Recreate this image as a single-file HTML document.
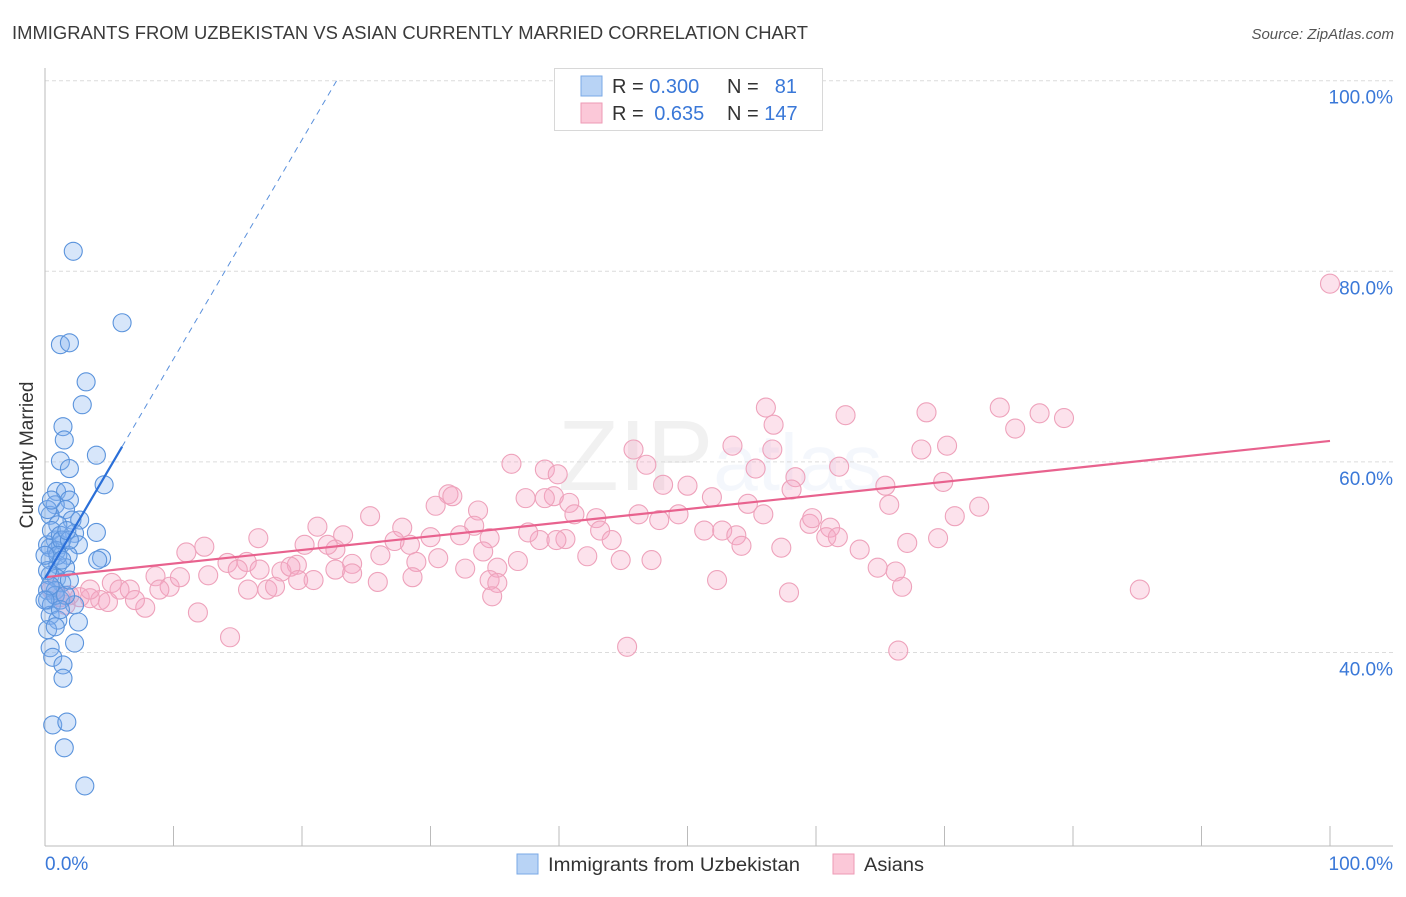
<!DOCTYPE html>
<html><head><meta charset="utf-8"><style>
body{margin:0;background:#fff;font-family:"Liberation Sans",sans-serif;}
svg text{font-family:"Liberation Sans",sans-serif;}
</style></head><body>
<svg id="chart" width="1406" height="892" xmlns="http://www.w3.org/2000/svg">
<text x="12" y="39" font-size="18" fill="#3a3a3a" textLength="796" lengthAdjust="spacingAndGlyphs">IMMIGRANTS FROM UZBEKISTAN VS ASIAN CURRENTLY MARRIED CORRELATION CHART</text>
<text x="1394" y="39" font-size="15" font-style="italic" fill="#555" text-anchor="end">Source: ZipAtlas.com</text>
<text x="720" y="490" font-size="100" fill="#000" opacity="0.05" text-anchor="middle" font-family="Liberation Serif">ZIP<tspan font-family="Liberation Sans" font-size="80" fill="#3a78d8" opacity="1">atlas</tspan></text>
<g id="grid"></g>
<g id="axes"></g>
<g id="pink"></g>
<g id="blue"></g>
<g id="trends"></g>
<text transform="translate(33,455) rotate(-90)" font-size="19" fill="#333" text-anchor="middle">Currently Married</text>
<g>
<rect x="554.5" y="68.5" width="268" height="62" fill="#fff" stroke="#d8d8d8"/>
<rect x="581" y="76" width="21" height="20" fill="#b8d3f5" stroke="#7aa8e6"/>
<rect x="581" y="103" width="21" height="20" fill="#fbc8d8" stroke="#ee9ab5"/>
<text x="612" y="93" font-size="20" fill="#333">R = <tspan fill="#3a78d8">0.300</tspan></text>
<text x="727" y="93" font-size="20" fill="#333">N =</text>
<text x="797" y="93" font-size="20" fill="#3a78d8" text-anchor="end">81</text>
<text x="612" y="120" font-size="20" fill="#333">R = <tspan fill="#3a78d8" dx="5">0.635</tspan></text>
<text x="727" y="120" font-size="20" fill="#333">N = <tspan fill="#3a78d8">147</tspan></text>
</g>
<g>
<rect x="517" y="854" width="21" height="20" fill="#b8d3f5" stroke="#7aa8e6"/>
<text x="548" y="871" font-size="19" fill="#333" textLength="252" lengthAdjust="spacingAndGlyphs">Immigrants from Uzbekistan</text>
<rect x="833" y="854" width="21" height="20" fill="#fbc8d8" stroke="#ee9ab5"/>
<text x="864" y="871" font-size="19" fill="#333" textLength="60" lengthAdjust="spacingAndGlyphs">Asians</text>
</g>
</svg>
<script>
const yTicks=[40,60,80,100];
const yTickLabels=["40.0%","60.0%","80.0%","100.0%"];
const xTickLabels=["0.0%","100.0%"];
const blueX=[2.2,6.0,1.2,1.9,3.2,2.9,1.4,1.5,1.2,1.9,4.0,4.6,0.9,1.6,1.9,0.8,1.6,0.4,2.1,2.7,1.0,4.0,2.3,0.8,2.6,0.4,1.2,1.8,4.4,4.1,0.4,1.0,1.6,0.4,0.9,1.3,0.2,0.8,0.2,0.5,1.2,2.3,0.4,1.0,2.6,0.2,0.8,2.3,0.4,0.6,1.4,1.4,0.6,1.7,1.5,3.1,0.2,0.5,1.2,0.9,1.3,1.9,0.2,0.8,1.6,1.2,0.4,1.0,0.0,0.0,0.2,1.7,0.5,1.3,1.9];
const blueY=[82.1,74.6,72.3,72.5,68.4,66.0,63.7,62.3,60.1,59.3,60.7,57.6,56.9,56.9,56.0,55.5,55.0,54.4,53.9,53.9,53.4,52.6,52.5,51.8,51.3,51.0,51.3,50.2,49.9,49.7,49.7,49.2,48.9,48.1,47.8,47.3,46.5,46.5,45.5,45.0,45.5,45.0,43.9,43.4,43.2,42.4,42.7,41.0,40.5,39.5,38.7,37.3,32.4,32.7,30.0,26.0,51.3,52.8,52.3,50.7,51.8,51.8,48.6,46.0,46.0,44.5,47.0,50.2,45.5,50.2,55.0,52.8,56.0,49.7,47.6];
const pinkX=[100.0,56.1,62.3,68.6,74.3,77.4,79.3,56.7,75.5,45.8,53.5,46.8,68.2,70.2,36.3,38.9,39.9,55.3,58.4,61.8,65.4,69.9,31.4,31.7,37.4,39.6,40.8,41.2,33.7,30.4,48.1,50.0,51.9,54.7,55.9,65.7,72.7,70.8,25.3,21.2,23.2,27.8,33.4,42.9,46.2,47.8,49.3,51.3,52.7,53.8,59.5,61.1,59.7,60.8,61.7,40.5,38.5,37.6,34.6,32.3,30.0,28.4,27.2,26.1,20.2,22.6,23.9,19.6,22.0,16.6,15.7,14.2,12.4,11.0,8.6,9.7,10.5,12.7,15.0,16.7,18.4,19.1,19.7,20.9,22.6,23.9,25.9,28.9,30.6,32.7,34.1,35.2,36.8,42.2,44.8,47.2,52.3,57.3,57.9,54.2,63.4,64.8,66.2,67.1,66.7,69.5,85.2,45.3,66.4,14.4,11.9,7.8,8.9,5.2,3.5,5.8,4.3,6.6,2.7,1.9,1.2,0.5,1.6,3.5,4.9,7.0,15.8,17.3,17.9,34.6,35.2,34.8,28.6,38.9,39.8,56.6,58.1,43.2,44.1];
const pinkY=[78.7,65.7,64.9,65.2,65.7,65.1,64.6,63.9,63.5,61.3,61.7,59.7,61.3,61.7,59.8,59.2,58.7,59.3,58.4,59.5,57.5,57.9,56.6,56.4,56.2,56.4,55.7,54.5,54.9,55.4,57.6,57.5,56.3,55.6,54.5,55.5,55.3,54.3,54.3,53.2,52.3,53.1,53.3,54.1,54.5,53.9,54.5,52.8,52.8,52.3,53.5,53.1,54.1,52.1,52.1,51.9,51.8,52.6,52.0,52.3,52.1,51.3,51.7,50.2,51.3,50.8,49.3,49.2,51.3,52.0,49.5,49.4,51.1,50.5,48.0,46.9,47.9,48.1,48.7,48.7,48.5,49.0,47.6,47.6,48.7,48.3,47.4,49.5,49.9,48.8,50.6,48.9,49.6,50.1,49.7,49.7,47.6,51.0,46.3,51.2,50.8,48.9,48.5,51.5,46.9,52.0,46.6,40.6,40.2,41.6,44.2,44.7,46.6,47.3,45.7,46.6,45.5,46.6,45.8,46.0,45.8,46.6,45.0,46.6,45.3,45.5,46.6,46.6,46.9,47.6,47.3,45.9,47.9,56.2,51.8,61.3,57.1,52.8,51.8];
const blueTrend=[47.8,2.3];   // intercept, slope
const pinkTrend=[47.9,0.143];
const NS="http://www.w3.org/2000/svg";
const X0=45,X1=1330,XR=1393,YB=846;
function sx(v){return X0+(X1-X0)*v/100;}
function sy(v){return 80.7+(100-v)*9.53;}
function mk(tag,attrs,parent){const e=document.createElementNS(NS,tag);for(const k in attrs)e.setAttribute(k,attrs[k]);parent.appendChild(e);return e;}
const grid=document.getElementById('grid'),axes=document.getElementById('axes');
yTicks.forEach((t,i)=>{
  const l=mk('line',{x1:X0,x2:XR,y1:sy(t),y2:sy(t),stroke:'#dcdcdc','stroke-dasharray':'4,3'},grid);
  
  
  const tx=mk('text',{x:1393,y:sy(t)+23,'font-size':19,fill:'#3a78d8','text-anchor':'end'},axes);
  tx.textContent=yTickLabels[i];
  
  
});
let a=mk('line',{x1:X0,x2:X0,y1:68,y2:YB,stroke:'#bbb'},axes);


a=mk('line',{x1:X0,x2:XR,y1:YB,y2:YB,stroke:'#bbb'},axes);


for(let i=0;i<=10;i++){
  const t=mk('line',{x1:sx(i*10),x2:sx(i*10),y1:826,y2:YB,stroke:'#bbb'},axes);
  
  
}
let xl=mk('text',{x:45,y:870,'font-size':19,fill:'#3a78d8'},axes);xl.textContent=xTickLabels[0];


xl=mk('text',{x:1393,y:870,'font-size':19,fill:'#3a78d8','text-anchor':'end'},axes);xl.textContent=xTickLabels[1];


const pg=document.getElementById('pink');
pinkX.forEach((x,i)=>{const c=mk('circle',{cx:sx(x),cy:sy(pinkY[i]),r:9.5,fill:'rgba(245,165,195,0.32)',stroke:'#eea2bb','stroke-width':1.1},pg);

});
const bg=document.getElementById('blue');
blueX.forEach((x,i)=>{const c=mk('circle',{cx:sx(x),cy:sy(blueY[i]),r:9,fill:'rgba(130,178,238,0.32)',stroke:'#5a93dc','stroke-width':1.1},bg);

});
const tg=document.getElementById('trends');
let l=mk('line',{x1:sx(0),y1:sy(pinkTrend[0]),x2:sx(100),y2:sy(pinkTrend[0]+pinkTrend[1]*100),stroke:'#e8628e','stroke-width':2.2},tg);


l=mk('line',{x1:sx(0),y1:sy(blueTrend[0]),x2:sx(6),y2:sy(blueTrend[0]+blueTrend[1]*6),stroke:'#2a6fd8','stroke-width':2.2},tg);


const xe=(100-blueTrend[0])/blueTrend[1];
l=mk('line',{x1:sx(6),y1:sy(blueTrend[0]+blueTrend[1]*6),x2:sx(xe),y2:sy(100),stroke:'#5a90dc','stroke-width':1,'stroke-dasharray':'6,5'},tg);


</script>
</body></html>
